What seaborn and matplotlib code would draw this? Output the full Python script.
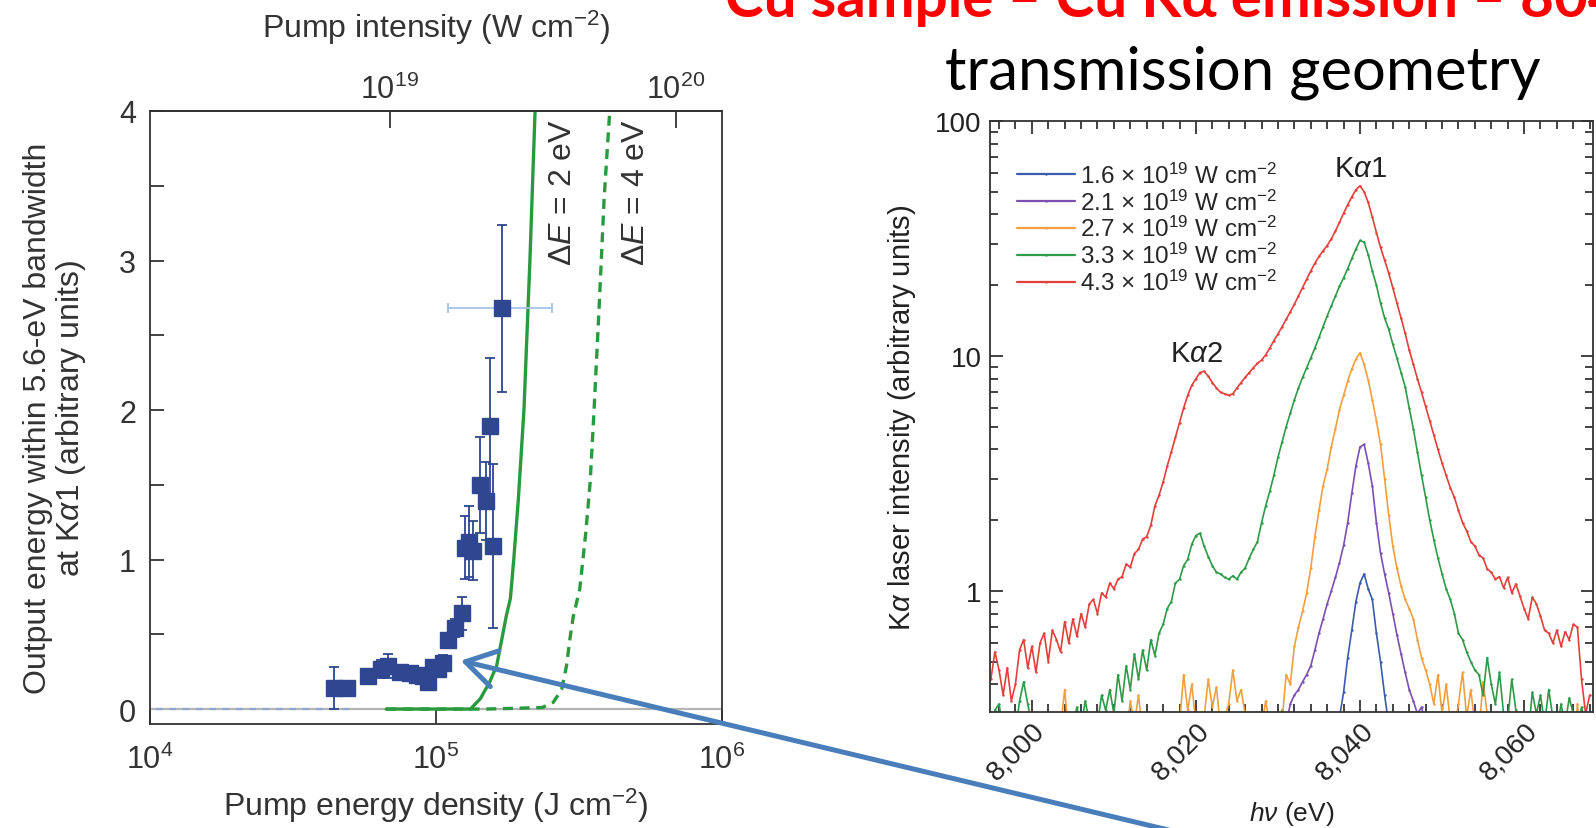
import numpy as np
import pandas as pd
import matplotlib
matplotlib.use('Agg')
import matplotlib.pyplot as plt
import seaborn as sns
from matplotlib.ticker import MultipleLocator, NullLocator, FixedLocator, FuncFormatter
from matplotlib.patches import FancyArrowPatch

sns.set_theme(style='ticks')
plt.rcParams['font.family'] = ['Liberation Sans', 'DejaVu Sans']
plt.rcParams['mathtext.fontset'] = 'custom'
plt.rcParams['mathtext.rm'] = 'Liberation Sans'
plt.rcParams['mathtext.it'] = 'Liberation Sans:italic'
plt.rcParams['mathtext.bf'] = 'Liberation Sans:bold'

# left panel: output energy vs pump energy density
density = [4.4e4, 4.9e4, 5.8e4, 6.4e4, 6.8e4, 7.5e4, 8.1e4, 8.6e4, 9.0e4, 9.4e4, 9.8e4, 1.02e5,
           1.06e5, 1.10e5, 1.165e5, 1.23e5, 1.26e5, 1.30e5, 1.35e5, 1.425e5, 1.50e5, 1.545e5,
           1.585e5, 1.70e5]
output = [0.14, 0.14, 0.22, 0.27, 0.29, 0.25, 0.24, 0.23, 0.22, 0.18, 0.28, 0.27,
          0.31, 0.46, 0.54, 0.64, 1.08, 1.12, 1.06, 1.50, 1.39, 1.89,
          1.09, 2.68]
output_err = [0.14, 0.02, 0.03, 0.06, 0.08, 0.04, 0.03, 0.03, 0.04, 0.03, 0.03, 0.04,
              0.05, 0.05, 0.06, 0.11, 0.21, 0.24, 0.20, 0.32, 0.26, 0.46,
              0.55, 0.56]
last_xerr = [[0.60e5], [0.85e5]]

model_2ev_x = [6.7e4, 1.0e5, 1.32e5, 1.43e5, 1.54e5, 1.63e5, 1.70e5, 1.76e5, 1.82e5, 1.87e5,
               1.94e5, 2.03e5, 2.13e5, 2.22e5]
model_2ev_y = [0, 0, 0, 0.07, 0.18, 0.29, 0.47, 0.62, 0.74, 1.0, 1.4, 2.0, 3.0, 4.0]
model_4ev_x = [6.7e4, 1.5e5, 2.35e5, 2.57e5, 2.75e5, 2.86e5, 2.94e5, 3.02e5, 3.18e5, 3.34e5,
               3.46e5, 3.57e5, 3.73e5, 3.87e5, 4.05e5]
model_4ev_y = [0, 0, 0.01, 0.045, 0.13, 0.29, 0.47, 0.62, 0.8, 1.18, 1.52, 2.0, 2.74, 3.41, 4.0]
baseline_x = [1.05e4, 5.2e4]

intensity_ticks = [1e19, 1e20]
pump_scale = 1.45e14  # W cm^-2 per J cm^-2

# right panel: spectra
energy = np.arange(7995.0, 8068.01, 0.5)
red = [0.42, 0.55, 0.46, 0.36, 0.47, 0.34, 0.40, 0.56, 0.62, 0.47,
       0.58, 0.45, 0.60, 0.66, 0.50, 0.68, 0.62, 0.55, 0.74, 0.60,
       0.76, 0.64, 0.80, 0.70, 0.88, 0.92, 0.80, 0.98, 0.94, 1.08,
       1.02, 1.12, 1.15, 1.30, 1.26, 1.44, 1.50, 1.66, 1.70, 1.90,
       2.30, 2.55, 2.90, 3.40, 3.90, 4.50, 5.20, 6.00, 6.80, 7.50,
       8.00, 8.50, 8.60, 8.20, 7.70, 7.30, 7.00, 6.90, 6.80, 6.90,
       7.30, 7.70, 8.10, 8.50, 8.90, 9.30, 9.60, 10.1, 10.8, 11.6,
       12.4, 13.3, 14.3, 15.4, 16.6, 18.0, 19.5, 21.2, 23.0, 24.8,
       26.5, 28.0, 29.5, 31.5, 34.0, 37.0, 40.5, 44.0, 47.5, 51.0,
       53.0, 50.0, 45.0, 39.0, 33.5, 29.0, 25.5, 22.5, 19.5, 16.8,
       14.5, 12.5, 10.6, 9.20, 8.00, 7.00, 6.10, 5.30, 4.60, 4.00,
       3.50, 3.10, 2.75, 2.50, 2.20, 1.95, 1.80, 1.62, 1.55, 1.42,
       1.38, 1.24, 1.20, 1.12, 1.15, 1.03, 1.14, 0.98, 1.07, 0.95,
       0.84, 0.76, 0.94, 0.88, 0.78, 0.68, 0.66, 0.60, 0.68, 0.58,
       0.67, 0.62, 0.72, 0.70, 0.42, 0.30, 0.36]
green = [0.25, 0.31, 0.33, 0.26, 0.22, 0.27, 0.25, 0.34, 0.41, 0.33,
         0.27, 0.24, 0.26, 0.22, 0.25, 0.28, 0.24, 0.26, 0.22, 0.25,
         0.27, 0.32, 0.26, 0.34, 0.28, 0.25, 0.27, 0.36, 0.31, 0.38,
         0.30, 0.44, 0.34, 0.48, 0.38, 0.54, 0.42, 0.56, 0.46, 0.62,
         0.53, 0.66, 0.72, 0.84, 0.90, 1.08, 1.12, 1.28, 1.36, 1.58,
         1.72, 1.76, 1.55, 1.40, 1.28, 1.20, 1.18, 1.14, 1.12, 1.16,
         1.12, 1.20, 1.25, 1.38, 1.50, 1.62, 1.95, 2.30, 2.65, 3.10,
         3.70, 4.30, 5.00, 5.70, 6.50, 7.30, 8.10, 8.90, 9.80, 10.8,
         12.0, 13.3, 14.8, 16.3, 18.0, 19.8, 21.5, 23.5, 26.0, 28.5,
         31.0, 30.5, 27.0, 23.0, 20.0, 16.8, 14.5, 13.0, 11.2, 9.80,
         8.50, 7.40, 6.00, 4.90, 3.90, 3.10, 2.50, 2.00, 1.65, 1.38,
         1.18, 1.02, 0.92, 0.80, 0.66, 0.62, 0.55, 0.50, 0.46, 0.44,
         0.36, 0.52, 0.40, 0.33, 0.45, 0.30, 0.28, 0.42, 0.31, 0.26,
         0.28, 0.24, 0.37, 0.30, 0.36, 0.27, 0.38, 0.29, 0.25, 0.33,
         0.27, 0.35, 0.30, 0.26, 0.32, 0.27, 0.24]
orange = [0.20, 0.22, 0.19, 0.24, 0.21, 0.18, 0.23, 0.20, 0.26, 0.21,
          0.19, 0.22, 0.24, 0.20, 0.23, 0.19, 0.21, 0.26, 0.38, 0.24,
          0.20, 0.23, 0.21, 0.19, 0.22, 0.25, 0.21, 0.24, 0.20, 0.23,
          0.22, 0.26, 0.21, 0.24, 0.34, 0.27, 0.36, 0.25, 0.22, 0.24,
          0.21, 0.26, 0.23, 0.28, 0.24, 0.22, 0.27, 0.44, 0.31, 0.40,
          0.27, 0.25, 0.29, 0.42, 0.32, 0.39, 0.26, 0.29, 0.33, 0.46,
          0.34, 0.38, 0.30, 0.27, 0.25, 0.28, 0.26, 0.34, 0.27, 0.24,
          0.30, 0.28, 0.44, 0.40, 0.58, 0.70, 0.82, 0.98, 1.25, 1.70,
          2.20, 2.80, 3.30, 4.10, 4.90, 5.90, 6.80, 7.80, 8.80, 9.70,
          10.3, 9.20, 7.90, 6.50, 5.30, 4.20, 3.00, 2.10, 1.55, 1.25,
          1.05, 0.92, 0.84, 0.76, 0.62, 0.52, 0.46, 0.40, 0.33, 0.44,
          0.30, 0.40, 0.28, 0.26, 0.33, 0.45, 0.29, 0.38, 0.27, 0.25,
          0.41, 0.30, 0.24, 0.27, 0.23, 0.26, 0.22, 0.24, 0.21, 0.20,
          0.22, 0.19, 0.21, 0.20, 0.23, 0.19, 0.21, 0.20, 0.22, 0.19,
          0.21, 0.23, 0.20, 0.33, 0.21, 0.19, 0.20]
purple_energy = np.arange(8029.0, 8049.01, 0.5)
purple = [0.22, 0.26, 0.24, 0.31, 0.27, 0.33, 0.36, 0.38, 0.41, 0.44,
          0.48, 0.56, 0.66, 0.76, 0.88, 1.00, 1.14, 1.32, 1.56, 1.95,
          2.60, 3.40, 4.10, 4.20, 3.50, 2.80, 1.95, 1.45, 1.18, 0.98,
          0.80, 0.65, 0.54, 0.45, 0.38, 0.34, 0.30, 0.32, 0.27, 0.24,
          0.22]
blue_energy = np.arange(8036.5, 8044.01, 0.5)
blue = [0.22, 0.25, 0.29, 0.37, 0.52, 0.68, 0.90, 1.08, 1.18, 1.02, 0.92, 0.66, 0.50, 0.36,
        0.27, 0.22]

series_labels = [r'1.6 $\times$ 10$^{19}$ W cm$^{-2}$', r'2.1 $\times$ 10$^{19}$ W cm$^{-2}$',
                 r'2.7 $\times$ 10$^{19}$ W cm$^{-2}$', r'3.3 $\times$ 10$^{19}$ W cm$^{-2}$',
                 r'4.3 $\times$ 10$^{19}$ W cm$^{-2}$']
series_colors = ['#3b5bab', '#7d4fb2', '#f2a03f', '#2f9a47', '#e2403a']
ev_ticks = [8000, 8020, 8040, 8060]
ev_tick_labels = ['8,000', '8,020', '8,040', '8,060']

spectra = pd.concat([
    pd.DataFrame({'ev': blue_energy, 'I': blue, 'series': series_labels[0]}),
    pd.DataFrame({'ev': purple_energy, 'I': purple, 'series': series_labels[1]}),
    pd.DataFrame({'ev': energy, 'I': orange, 'series': series_labels[2]}),
    pd.DataFrame({'ev': energy, 'I': green, 'series': series_labels[3]}),
    pd.DataFrame({'ev': energy, 'I': red, 'series': series_labels[4]}),
])

W, H = 1596, 829
fig = plt.figure(figsize=(W / 100, H / 100), dpi=100)
fig.patch.set_facecolor('white')

# ---------------- left panel
ax1 = fig.add_axes([150 / W, 1 - 725 / H, 572 / W, 613 / H])
ax1.axhline(0, color='#b5b5b5', lw=1.6, zorder=1)
ax1.plot(baseline_x, [0, 0], color='#8ea6cf', lw=1.6, ls=(0, (3, 3)), zorder=1)
sns.lineplot(x=model_4ev_x, y=model_4ev_y, ax=ax1, color='#2a9a3e', lw=2.4,
             linestyle=(0, (3, 2)), sort=False, estimator=None, zorder=2)
sns.lineplot(x=model_2ev_x, y=model_2ev_y, ax=ax1, color='#2a9a3e', lw=2.4,
             sort=False, estimator=None, zorder=2)
ax1.errorbar(density, output, yerr=output_err, fmt='s', color='#2f4690', ms=12,
             ecolor='#2f4690', elinewidth=1.3, capsize=3.5, capthick=1.3, zorder=4)
ax1.errorbar([density[-1]], [output[-1]], xerr=last_xerr, fmt='none', ecolor='#a5c3e6',
             elinewidth=1.3, capsize=3.5, capthick=1.3, zorder=3)

ax1.set_xscale('log')
ax1.set_xlim(1e4, 1e6)
ax1.set_ylim(-0.1, 4)
ax1.xaxis.set_minor_locator(NullLocator())
ax1.yaxis.set_major_locator(MultipleLocator(1))
ax1.yaxis.set_minor_locator(MultipleLocator(0.5))
ax1.tick_params(which='both', direction='in', length=10, width=1.2, colors='#222222',
                labelsize=22, labelcolor='#333333')
ax1.tick_params(axis='y', pad=10)
ax1.tick_params(axis='x', pad=14)
for s in ax1.spines.values():
    s.set_color('#333333')
    s.set_linewidth(1.3)

ax1.set_xlabel(r'Pump energy density (J cm$^{-2}$)', fontsize=23, color='#333333', labelpad=8)
ax1.set_ylabel('Output energy within 5.6-eV bandwidth\nat K$\\alpha$1 (arbitrary units)',
               fontsize=23, color='#333333', labelpad=22, linespacing=1.05)

top = ax1.secondary_xaxis('top', functions=(lambda d: d * pump_scale, lambda i: i / pump_scale))
top.xaxis.set_major_locator(FixedLocator(intensity_ticks))
top.xaxis.set_minor_locator(NullLocator())
top.tick_params(direction='in', length=12, width=1.2, colors='#222222', labelsize=22,
                labelcolor='#333333', pad=4)
top.set_xlabel(r'Pump intensity (W cm$^{-2}$)', fontsize=23, color='#333333', labelpad=27)

ax1.text(2.78e5, 3.46, r'$\Delta E$ = 2 eV', rotation=90, ha='center', va='center',
         fontsize=23, color='#333333')
ax1.text(5.0e5, 3.46, r'$\Delta E$ = 4 eV', rotation=90, ha='center', va='center',
         fontsize=23, color='#333333')

# ---------------- right panel
ax2 = fig.add_axes([990 / W, 1 - 713 / H, 603 / W, 591 / H])
ax2.set_yscale('log')
sns.lineplot(data=spectra, x='ev', y='I', hue='series', palette=series_colors, ax=ax2,
             estimator=None, sort=True, lw=1.2, marker='.', markersize=3.5,
             markeredgewidth=0, legend=True)
ax2.set_xlim(7994.9, 8068.4)
ax2.set_ylim(0.305, 100)
ax2.xaxis.set_major_locator(FixedLocator(ev_ticks))
ax2.set_xticklabels(ev_tick_labels, rotation=45, ha='right', rotation_mode='anchor')
ax2.xaxis.set_minor_locator(MultipleLocator(2))
ax2.tick_params(which='both', direction='in', top=True, right=True, colors='#222222',
                labelsize=20, labelcolor='#222222', width=1.2)
ax2.tick_params(which='major', length=9)
ax2.tick_params(which='minor', length=6)
ax2.tick_params(axis='x', pad=4)
ax2.tick_params(axis='y', pad=6)
ax2.yaxis.set_major_formatter(FuncFormatter(lambda v, p: '%g' % v))
for s in ax2.spines.values():
    s.set_color('#333333')
    s.set_linewidth(1.3)
ax2.set_xlabel(r'$h\nu$ (eV)', fontsize=19, color='#222222', labelpad=10)
ax2.set_ylabel(r'K$\alpha$ laser intensity (arbitrary units)', fontsize=21, color='#222222',
               labelpad=12)
leg = ax2.legend(loc='upper left', bbox_to_anchor=(0.045, 0.93), frameon=False, fontsize=17.5,
                 handlelength=2.4, handletextpad=0.2, labelspacing=0.07, borderaxespad=0,
                 borderpad=0)
for line in leg.get_lines():
    line.set_linewidth(1.6)
ax2.text(8040, 63, r'K$\alpha$1', ha='center', va='center', fontsize=21, color='#222222')
ax2.text(8020, 10.3, r'K$\alpha$2', ha='center', va='center', fontsize=21, color='#222222')

# ---------------- slide titles and arrow
fig.text(725 / W, 1 - 17 / H, 'Cu sample \u2013 Cu K\u03b1 emission \u2013 8048 eV', ha='left',
         va='baseline', fontsize=42, fontweight='bold', color='#ff0000', family='Lato')
fig.text(945 / W, 1 - 90 / H, 'transmission geometry', ha='left', va='baseline', fontsize=43,
         color='black', family='Lato')

arrow = FancyArrowPatch((1206 / W, -11 / H), (458 / W, 168 / H), transform=fig.transFigure,
                        arrowstyle='->,head_length=0.9,head_width=0.55', mutation_scale=24,
                        lw=3.6, color='#4a7ebb', zorder=10)
fig.add_artist(arrow)

fig.savefig('out.png', dpi=100)
